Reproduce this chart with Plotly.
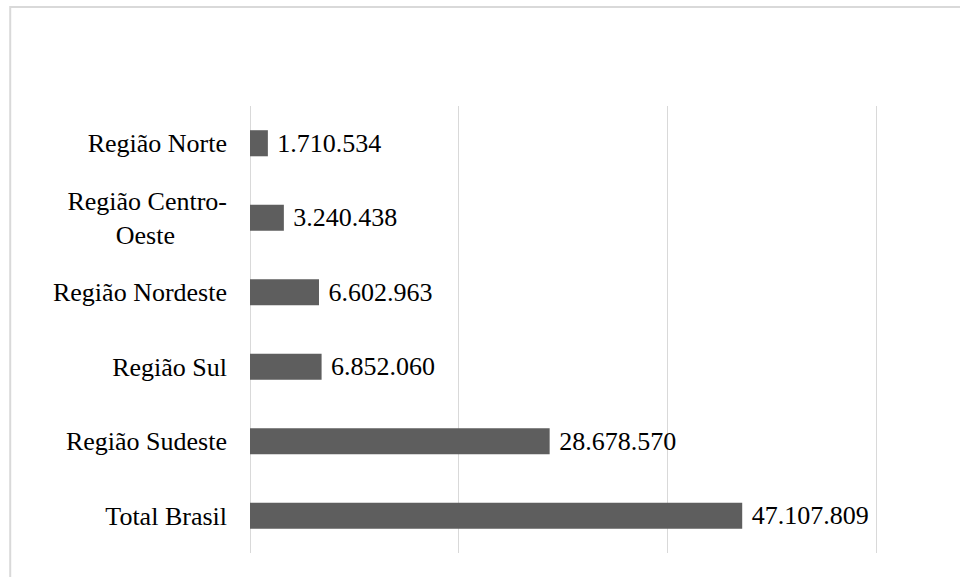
import plotly.graph_objects as go

categories = ["Região Norte", "Região Centro-<br>Oeste" + "\u00a0" * 8, "Região Nordeste",
              "Região Sul", "Região Sudeste", "Total Brasil"]
values = [1710534, 3240438, 6602963, 6852060, 28678570, 47107809]
x_ticks = [0, 20000000, 40000000, 60000000]
x_max = 60200000

FONT = "Liberation Serif, Times New Roman, serif"

fig = go.Figure(go.Bar(
    x=values, y=categories, orientation="h",
    marker=dict(color="#5e5e5e", line=dict(width=0)),
    width=0.35,
    texttemplate=" %{x:,}", textposition="outside", constraintext="none",
    textfont=dict(family=FONT, size=26, color="#000000"),
    cliponaxis=False,
))

plot_w = 627.5 * x_max / x_ticks[-1]
left = 249.5
right = 960 - left - plot_w

fig.update_layout(
    width=960, height=577,
    margin=dict(l=left, r=right, t=106, b=24),
    paper_bgcolor="white", plot_bgcolor="white",
    separators=",.",
    showlegend=False,
    font=dict(family=FONT, size=26, color="#000000"),
    shapes=[dict(type="rect", xref="paper", yref="paper",
                 x0=(9.5 - left) / plot_w, x1=(965 - left) / plot_w, y0=-0.06, y1=1.2215,
                 line=dict(color="#d9d9d9", width=2), fillcolor="rgba(0,0,0,0)", layer="below")],
)
fig.update_xaxes(range=[0, x_max], tickvals=x_ticks, showticklabels=False,
                 showgrid=True, gridcolor="#d9d9d9", gridwidth=1,
                 zeroline=True, zerolinecolor="#d9d9d9", zerolinewidth=1, showline=False)
fig.update_yaxes(autorange="reversed", showgrid=False, showline=False, zeroline=False,
                 ticks="", ticklabelstandoff=22,
                 tickfont=dict(family=FONT, size=26, color="#000000"))

fig.write_html("out.html", config={"displayModeBar": False},
               post_script="document.body.style.margin='0';document.body.style.padding='0';")
